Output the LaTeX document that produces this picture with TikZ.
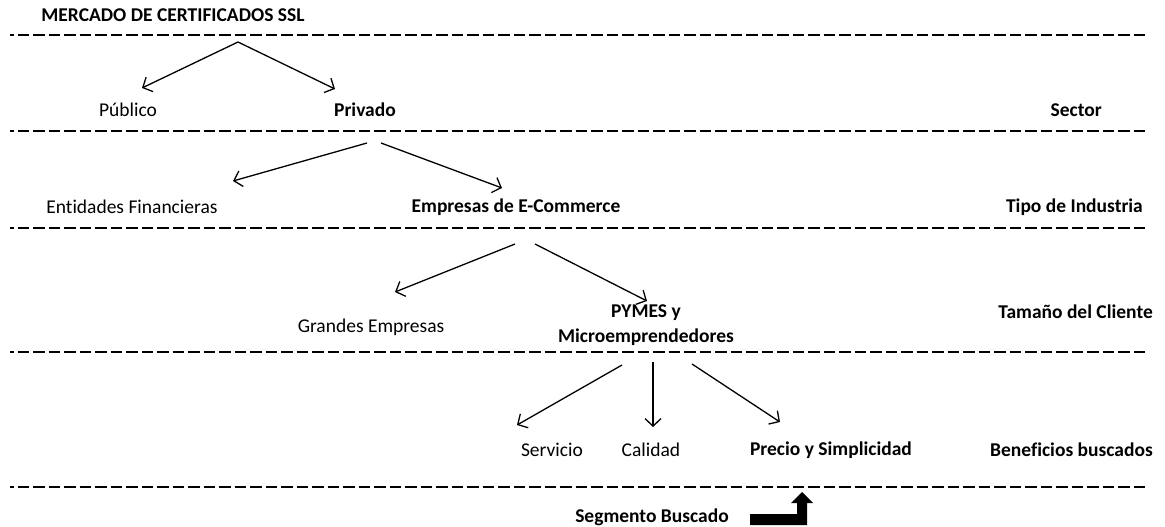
\documentclass[tikz,border=0pt]{standalone}
\usepackage{fontspec}
\setmainfont{Carlito}[Ligatures={NoCommon}]
\usetikzlibrary{arrows.meta}
\begin{document}
\begin{tikzpicture}[x=1pt,y=-1pt,
  sep/.style={line width=2.4pt,dash pattern=on 11.5pt off 4pt,dash phase=8pt},
  lbl/.style={inner sep=0pt,font=\fontsize{19.5}{23}\selectfont},
  blbl/.style={lbl,font=\fontsize{19.5}{23}\selectfont\bfseries},
  rlbl/.style={blbl,anchor=east},
  conn/.style={line width=1.3pt,-{Straight Barb[length=7.5pt,width=16pt,line width=1.3pt]}}]
\useasboundingbox (0,0) rectangle (1165,527);
% separators
\foreach \yy in {35,131,228,352,487} \draw[sep] (10,\yy) -- (1148,\yy);
% title
\node[blbl] (title) at (173,15) {MERCADO DE CERTIFICADOS SSL};
% level 1
\node[lbl] (pub) at (128,110) {Público};
\node[blbl] (priv) at (365,110) {Privado};
\node[rlbl] (sector) at (1102,110) {Sector};
% level 2
\node[lbl] (ent) at (132,207) {Entidades Financieras};
\node[blbl] (ecom) at (516,207) {Empresas de E-Commerce};
\node[rlbl] (ind) at (1143,207) {Tipo de Industria};
% level 3
\node[lbl] (gran) at (371,327) {Grandes Empresas};
\node[blbl,align=center] (pymes) at (646,325) {PYMES y\\[2pt]Microemprendedores};
\node[rlbl] (tam) at (1153,312) {Tamaño del Cliente};
% level 4
\node[lbl] (serv) at (552,450) {Servicio};
\node[lbl] (cal) at (651,450) {Calidad};
\node[blbl] (prec) at (831,450) {Precio y Simplicidad};
\node[rlbl] (ben) at (1153,450) {Beneficios buscados};
% bottom
\node[blbl] (seg) at (652,517) {Segmento Buscado};
% connector coordinates
\coordinate (t1) at (238,42); \coordinate (e1a) at (142,88); \coordinate (e1b) at (335,89);
\coordinate (t2a) at (367,143); \coordinate (t2b) at (381,143);
\coordinate (e2a) at (233,181); \coordinate (e2b) at (502,188);
\coordinate (t3a) at (515,244); \coordinate (t3b) at (535,244);
\coordinate (e3a) at (395,292); \coordinate (e3b) at (647,301);
\coordinate (t4a) at (622,365); \coordinate (t4b) at (653,362); \coordinate (t4c) at (692,364);
\coordinate (e4a) at (517,425); \coordinate (e4b) at (653,427); \coordinate (e4c) at (780,422);
\draw[conn] (t1) -- (e1a);
\draw[conn] (t1) -- (e1b);
\draw[conn] (t2a) -- (e2a);
\draw[conn] (t2b) -- (e2b);
\draw[conn] (t3a) -- (e3a);
\draw[conn] (t3b) -- (e3b);
\draw[conn] (t4a) -- (e4a);
\draw[conn] (t4b) -- (e4b);
\draw[conn] (t4c) -- (e4c);
% bent block arrow
\fill[black] (750,514) -- (797,514) -- (797,503) -- (791,503) -- (802,492) -- (813,503) -- (807,503) -- (807,525) -- (750,525) -- cycle;
\end{tikzpicture}
\end{document}
